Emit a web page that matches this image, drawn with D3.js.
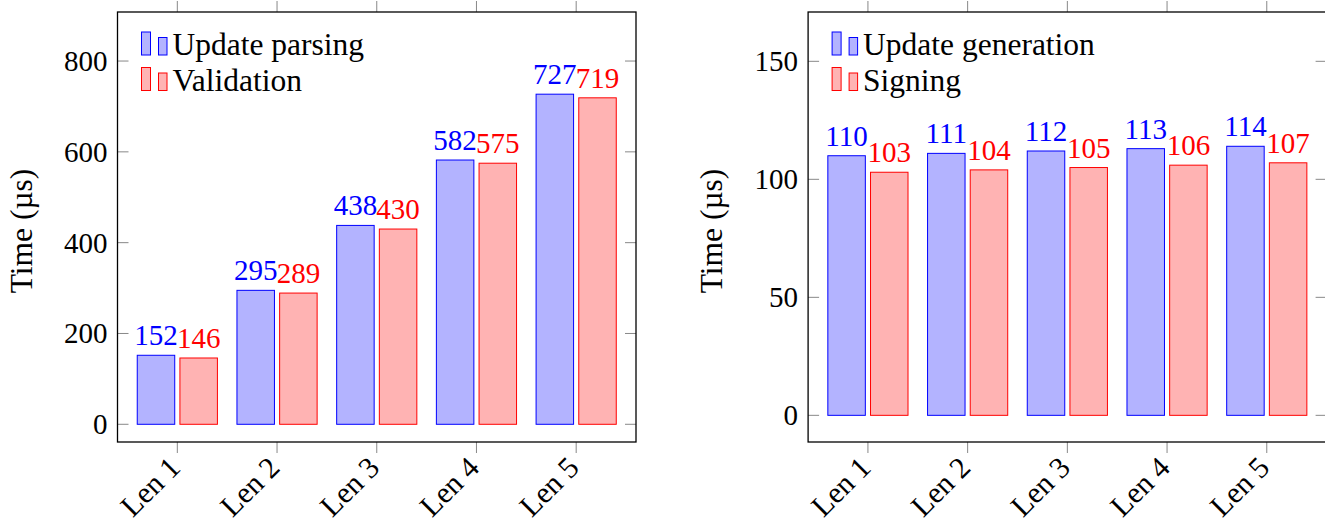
<!DOCTYPE html>
<meta charset="utf-8">
<head>
<script src="https://d3js.org/d3.v7.min.js"></script>
<style>
  body { margin: 0; background: #fff; }
</style>
</head>
<body>
<svg id="chart" width="1325" height="519"></svg>
<script>
// categories and values
var categories = ["Len 1", "Len 2", "Len 3", "Len 4", "Len 5"];

var parsing = [152, 295, 438, 582, 727];
var validation = [146, 289, 430, 575, 719];

var generation = [110, 111, 112, 113, 114];
var signing = [103, 104, 105, 106, 107];

var leftTicks = [0, 200, 400, 600, 800];
var rightTicks = [0, 50, 100, 150];

var svg = d3.select("#chart")
  .attr("font-family", "'Liberation Serif', 'DejaVu Serif', serif");

var blue = "#0000ff", blueFill = "#b3b3ff";
var red = "#ff0000", redFill = "#ffb3b3";
var numSize = 29;   // digits
var wordSize = 31.5; // words

function panel(x0, x1, yDomain, yTicks, s1, s2, name1, name2) {
  var top = 12, bottom = 442;
  var g = svg.append("g");

  var x = d3.scalePoint().domain(categories).range([x0, x1]).padding(0.6);
  var y = d3.scaleLinear().domain(yDomain).range([bottom, top]);
  var step = x.step();
  var bw = step * 0.376, off = step * 0.214;

  // bars
  var series = [
    {vals: s1, dx: -off, fill: blueFill, stroke: blue},
    {vals: s2, dx: off, fill: redFill, stroke: red}
  ];
  series.forEach(function(s) {
    g.append("g").selectAll("rect")
      .data(s.vals)
      .enter().append("rect")
        .attr("x", function(d, i) { return x(categories[i]) + s.dx - bw / 2; })
        .attr("y", function(d) { return y(d); })
        .attr("width", bw)
        .attr("height", function(d) { return y(0) - y(d); })
        .attr("fill", s.fill)
        .attr("stroke", s.stroke)
        .attr("stroke-width", 1);
    g.append("g").selectAll("text")
      .data(s.vals)
      .enter().append("text")
        .attr("x", function(d, i) { return x(categories[i]) + s.dx; })
        .attr("y", function(d) { return y(d) - 10; })
        .attr("text-anchor", "middle")
        .attr("font-size", numSize)
        .attr("fill", s.stroke)
        .text(function(d) { return d; });
  });

  // ticks: x outward top & bottom, y inward left & right
  var tickCol = "#888";
  categories.forEach(function(c) {
    g.append("line").attr("x1", x(c)).attr("x2", x(c)).attr("y1", bottom).attr("y2", bottom + 11)
      .attr("stroke", tickCol).attr("stroke-width", 1);
    g.append("line").attr("x1", x(c)).attr("x2", x(c)).attr("y1", top).attr("y2", top - 11)
      .attr("stroke", tickCol).attr("stroke-width", 1);
  });
  yTicks.forEach(function(t) {
    g.append("line").attr("x1", x0).attr("x2", x0 + 11).attr("y1", y(t)).attr("y2", y(t))
      .attr("stroke", tickCol).attr("stroke-width", 1);
    g.append("line").attr("x1", x1 - 11).attr("x2", x1).attr("y1", y(t)).attr("y2", y(t))
      .attr("stroke", tickCol).attr("stroke-width", 1);
    g.append("text")
      .attr("x", x0 - 10).attr("y", y(t))
      .attr("text-anchor", "end")
      .attr("dominant-baseline", "central")
      .attr("font-size", numSize)
      .text(t);
  });

  // frame
  g.append("rect")
    .attr("x", x0).attr("y", top)
    .attr("width", x1 - x0).attr("height", bottom - top)
    .attr("fill", "none").attr("stroke", "#000").attr("stroke-width", 1.3);

  // x tick labels, rotated
  categories.forEach(function(c) {
    var tx = x(c) - 3, ty = bottom + 20;
    g.append("text")
      .attr("transform", "translate(" + tx + "," + ty + ") rotate(-45)")
      .attr("text-anchor", "end")
      .attr("dominant-baseline", "central")
      .attr("font-size", 30)
      .text(c);
  });

  // y label
  g.append("text")
    .attr("transform", "translate(" + (x0 - 86) + "," + ((top + bottom) / 2 + 4) + ") rotate(-90)")
    .attr("text-anchor", "middle")
    .attr("font-size", wordSize)
    .text("Time (µs)");

  // legend
  var lg = g.append("g");
  [[name1, blueFill, blue], [name2, redFill, red]].forEach(function(e, i) {
    var by = 55 + i * 35.5;
    lg.append("rect").attr("x", x0 + 24).attr("y", by - 23).attr("width", 9).attr("height", 23)
      .attr("fill", e[1]).attr("stroke", e[2]).attr("stroke-width", 1);
    lg.append("rect").attr("x", x0 + 41).attr("y", by - 17.5).attr("width", 8.5).attr("height", 17.5)
      .attr("fill", e[1]).attr("stroke", e[2]).attr("stroke-width", 1);
    lg.append("text").attr("x", x0 + 55).attr("y", by)
      .attr("font-size", wordSize)
      .text(e[0]);
  });
}

panel(117.5, 636, [-39, 908], leftTicks, parsing, validation, "Update parsing", "Validation");
panel(808.1, 1326.6, [-11.3, 170.9], rightTicks, generation, signing, "Update generation", "Signing");
</script>
</body>
</html>
